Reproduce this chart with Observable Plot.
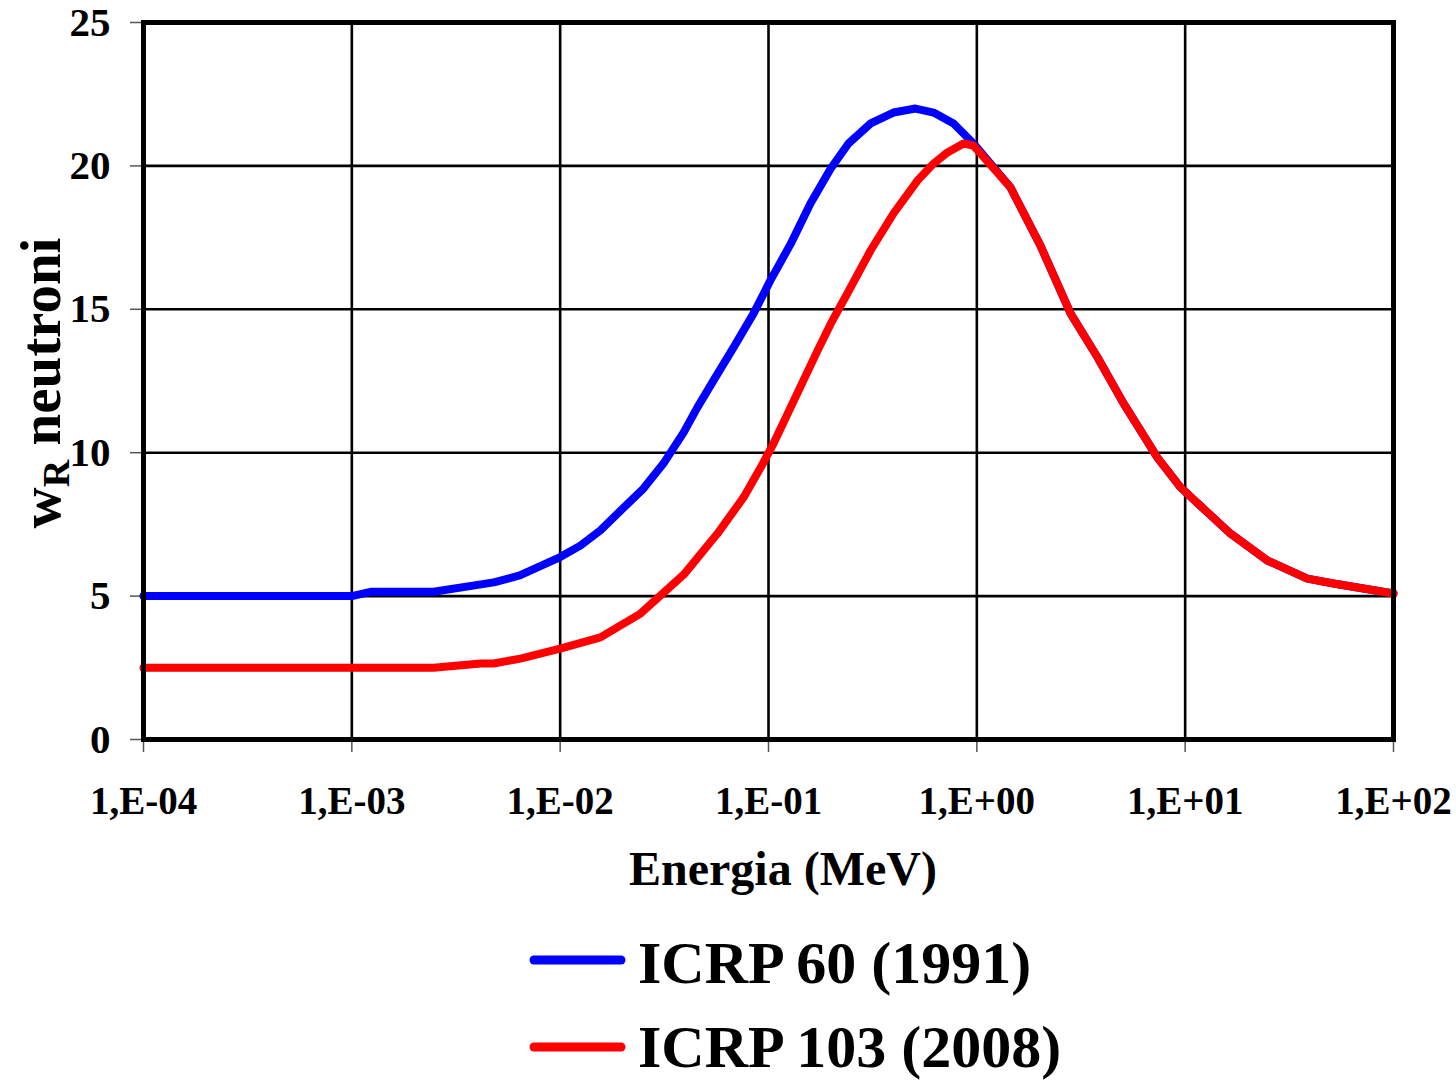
<!DOCTYPE html>
<html>
<head>
<meta charset="utf-8">
<script src="https://cdn.jsdelivr.net/npm/d3@7"></script>
<script src="https://cdn.jsdelivr.net/npm/@observablehq/plot@0.6"></script>
<style>
  html, body { margin: 0; padding: 0; background: #fff; }
  #chart { width: 1456px; }
  svg { display: block; }
</style>
</head>
<body>
<div id="chart"></div>
<script>
// ---- Data ----
const energy60 = [1e-4, 1e-3, 1.23e-3, 2.47e-3, 4.8e-3, 6.4e-3, 1e-2, 1.25e-2, 1.56e-2, 1.95e-2, 2.51e-2, 3.13e-2, 3.91e-2, 4.56e-2, 5.45e-2, 6.8e-2, 8.47e-2, 0.102, 0.128, 0.159, 0.199, 0.242, 0.309, 0.398, 0.508, 0.62, 0.773, 0.964, 1.45, 2.02, 2.82, 3.80, 5.06, 7.36, 9.5, 12.8, 16.5, 24.8, 38.6, 51.5, 100];
const wr60 = [5.0, 5.0, 5.15, 5.15, 5.48, 5.72, 6.36, 6.76, 7.29, 7.98, 8.75, 9.62, 10.7, 11.58, 12.52, 13.67, 14.85, 16.0, 17.29, 18.69, 19.91, 20.78, 21.48, 21.86, 22.0, 21.86, 21.48, 20.78, 19.25, 17.22, 14.85, 13.32, 11.72, 9.83, 8.79, 7.92, 7.18, 6.24, 5.61, 5.44, 5.09];

const energy103 = [1e-4, 2.47e-3, 4.15e-3, 4.79e-3, 6.45e-3, 1e-2, 1.56e-2, 2.43e-2, 3.92e-2, 5.69e-2, 7.59e-2, 9.17e-2, 0.1057, 0.172, 0.199, 0.239, 0.309, 0.398, 0.519, 0.62, 0.723, 0.863, 0.964, 1.45, 2.02, 2.82, 3.80, 5.06, 7.36, 9.5, 12.8, 16.5, 24.8, 38.6, 51.5, 100];
const wr103 = [2.5, 2.5, 2.65, 2.65, 2.82, 3.17, 3.56, 4.39, 5.75, 7.18, 8.44, 9.48, 10.32, 13.56, 14.5, 15.55, 17.05, 18.34, 19.49, 20.08, 20.47, 20.78, 20.71, 19.25, 17.22, 14.85, 13.32, 11.72, 9.83, 8.79, 7.92, 7.18, 6.24, 5.61, 5.44, 5.09];

const seriesNames = ["ICRP 60 (1991)", "ICRP 103 (2008)"];
const seriesColors = ["#0000ff", "#ff0000"];

const xTicks = [1e-4, 1e-3, 1e-2, 1e-1, 1e0, 1e1, 1e2];
const xTickLabels = ["1,E-04", "1,E-03", "1,E-02", "1,E-01", "1,E+00", "1,E+01", "1,E+02"];
const yTicks = [0, 5, 10, 15, 20, 25];

const xTitle = "Energia (MeV)";
const yTitleMain = "w";
const yTitleSub = "R";
const yTitleRest = " neutroni";

// ---- Build tables ----
const data60 = energy60.map((e, i) => ({E: e, w: wr60[i], s: seriesNames[0]}));
const data103 = energy103.map((e, i) => ({E: e, w: wr103[i], s: seriesNames[1]}));

const FONT = "'Liberation Serif', 'Times New Roman', serif";

const svg = Plot.plot({
  width: 1456,
  height: 915,
  marginLeft: 143,
  marginRight: 63,
  marginTop: 22,
  marginBottom: 176,
  x: {type: "log", domain: [1e-4, 100]},
  y: {domain: [0, 25]},
  style: {fontFamily: FONT, fontWeight: "bold", fontSize: "38px", background: "white", color: "black", overflow: "visible"},
  marks: [
    Plot.gridX(xTicks, {stroke: "black", strokeOpacity: 1, strokeWidth: 2.6}),
    Plot.gridY(yTicks, {stroke: "black", strokeOpacity: 1, strokeWidth: 2.6}),
    Plot.axisX(xTicks, {
      tickFormat: d => xTickLabels[Math.round(Math.log10(d)) + 4],
      tickSize: 13, tickPadding: 34, stroke: "#555", strokeWidth: 1.5,
      fontSize: 39, fontWeight: "bold", label: null
    }),
    Plot.axisY(yTicks, {
      tickSize: 13, tickPadding: 20, stroke: "#555", strokeWidth: 1.5,
      fontSize: 41, fontWeight: "bold", label: null
    }),
    Plot.line(data60, {x: "E", y: "w", stroke: seriesColors[0], strokeWidth: 8, strokeLinejoin: "round"}),
    Plot.line(data103, {x: "E", y: "w", stroke: seriesColors[1], strokeWidth: 8, strokeLinejoin: "round"}),
    Plot.frame({stroke: "black", strokeWidth: 5})
  ]
});

const s = d3.select(svg);
// X axis title
s.append("text")
  .attr("x", 783).attr("y", 885)
  .attr("text-anchor", "middle")
  .style("font-family", FONT).style("font-weight", "bold").style("font-size", "48px")
  .attr("fill", "black")
  .text(xTitle);

// Y axis title with subscript
const yt = s.append("text")
  .attr("transform", "translate(60,383) rotate(-90)")
  .attr("text-anchor", "middle")
  .style("font-family", FONT).style("font-weight", "bold").style("font-size", "57px")
  .attr("fill", "black");
yt.append("tspan").text(yTitleMain);
yt.append("tspan").attr("dy", 9).style("font-size", "38px").text(yTitleSub);
yt.append("tspan").attr("dy", -9).text(yTitleRest);

document.getElementById("chart").appendChild(svg);

// ---- Legend below the chart ----
const legend = d3.select("#chart").append("svg")
  .attr("width", 1456).attr("height", 165)
  .style("display", "block");
const rows = [{y: 45, base: 68}, {y: 132, base: 152}];
seriesNames.forEach((name, i) => {
  legend.append("line")
    .attr("x1", 534).attr("x2", 621)
    .attr("y1", rows[i].y).attr("y2", rows[i].y)
    .attr("stroke", seriesColors[i]).attr("stroke-width", 9)
    .attr("stroke-linecap", "round");
  legend.append("text")
    .attr("x", 638).attr("y", rows[i].base)
    .style("font-family", FONT).style("font-weight", "bold").style("font-size", "60px")
    .attr("fill", "black")
    .text(name);
});
</script>
</body>
</html>
